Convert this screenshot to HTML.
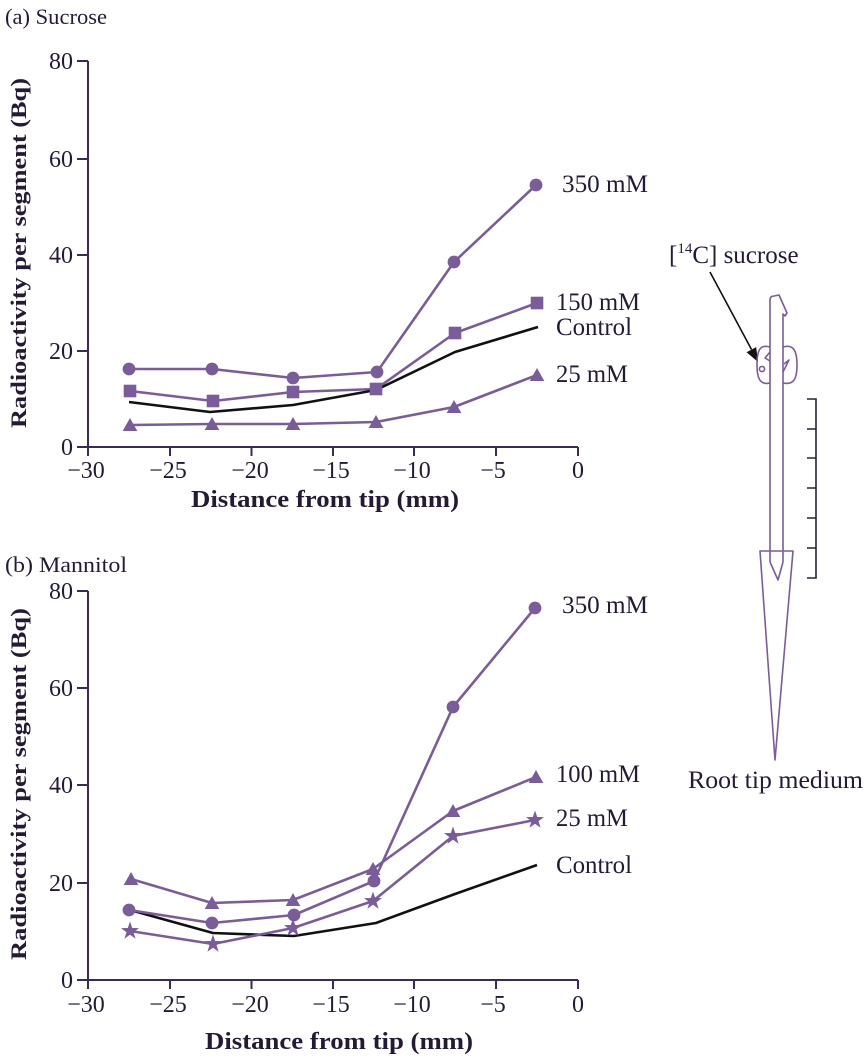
<!DOCTYPE html>
<html>
<head>
<meta charset="utf-8">
<style>
  html, body { margin: 0; padding: 0; background: #ffffff; }
  svg { display: block; }
  text { font-family: "Liberation Serif", serif; fill: #241a36; }
  .tk { font-size: 24px; }
  .lg { font-size: 25px; }
  .bold { font-weight: bold; }
</style>
</head>
<body>
<svg width="865" height="1058" viewBox="0 0 865 1058" xmlns="http://www.w3.org/2000/svg">
  <rect width="865" height="1058" fill="#ffffff"/>
  <defs>
    <circle id="mc" cx="0" cy="0" r="6.4" fill="#7a5c9a"/>
    <rect id="ms" x="-6.3" y="-6.3" width="12.6" height="12.6" fill="#7a5c9a"/>
    <polygon id="mt" points="0,-8 7.3,5 -7.3,5" fill="#7a5c9a"/>
    <polygon id="mst" points="0,-9.5 2.2,-3 9,-2.9 3.5,1.2 5.6,7.7 0,3.7 -5.6,7.7 -3.5,1.2 -9,-2.9 -2.2,-3" fill="#7a5c9a"/>
  </defs>

  <!-- ================= PANEL A ================= -->
  <text x="5" y="24" font-size="22.5" textLength="102" lengthAdjust="spacingAndGlyphs">(a) Sucrose</text>

  <!-- axes -->
  <g stroke="#3b2a58" stroke-width="2" fill="none">
    <path d="M88,61 L88,447 L578,447"/>
    <path d="M77,61 H88 M77,159 H88 M77,255 H88 M77,351 H88 M77,447 H88"/>
    <path d="M88,447 V456 M170,447 V456 M251.5,447 V456 M333,447 V456 M414,447 V456 M496,447 V456 M578,447 V456"/>
  </g>
  <g class="tk" text-anchor="end">
    <text x="73" y="69">80</text>
    <text x="73" y="167">60</text>
    <text x="73" y="263">40</text>
    <text x="73" y="359">20</text>
    <text x="73" y="455">0</text>
  </g>
  <g class="tk" text-anchor="middle">
    <text x="86" y="478">−30</text>
    <text x="168" y="478">−25</text>
    <text x="250" y="478">−20</text>
    <text x="331" y="478">−15</text>
    <text x="412" y="478">−10</text>
    <text x="493" y="478">−5</text>
    <text x="578" y="478">0</text>
  </g>
  <text class="bold" x="325" y="507" font-size="24" text-anchor="middle" textLength="268" lengthAdjust="spacingAndGlyphs">Distance from tip (mm)</text>
  <text class="bold" transform="translate(26,253) rotate(-90)" x="0" y="0" font-size="22" text-anchor="middle" textLength="350" lengthAdjust="spacingAndGlyphs">Radioactivity per segment (Bq)</text>

  <!-- series A -->
  <g fill="none" stroke-width="2.6" stroke-linejoin="round">
    <polyline stroke="#7a5c9a" points="129,369 212,369 293,378 377,372 454,262 536,185"/>
    <polyline stroke="#7a5c9a" points="130,391 213,401 293,392 376,389 455,333 537,303"/>
    <polyline stroke="#111111" points="129,402 210,412 293,405 376,390 455,352 538,327"/>
    <polyline stroke="#7a5c9a" points="130,425 212,424 293,424 376,422 454,407 537,375"/>
  </g>
  <use href="#mc" x="129" y="369"/><use href="#mc" x="212" y="369"/><use href="#mc" x="293" y="378"/>
  <use href="#mc" x="377" y="372"/><use href="#mc" x="454" y="262"/><use href="#mc" x="536" y="185"/>
  <use href="#ms" x="130" y="391"/><use href="#ms" x="213" y="401"/><use href="#ms" x="293" y="392"/>
  <use href="#ms" x="376" y="389"/><use href="#ms" x="455" y="333"/><use href="#ms" x="537" y="303"/>
  <use href="#mt" x="130" y="426"/><use href="#mt" x="212" y="425"/><use href="#mt" x="293" y="425"/>
  <use href="#mt" x="376" y="423"/><use href="#mt" x="454" y="408"/><use href="#mt" x="537" y="376"/>

  <g class="lg">
    <text x="562" y="192" textLength="86" lengthAdjust="spacingAndGlyphs">350 mM</text>
    <text x="556" y="310" textLength="84" lengthAdjust="spacingAndGlyphs">150 mM</text>
    <text x="556" y="335" textLength="76" lengthAdjust="spacingAndGlyphs">Control</text>
    <text x="556" y="382" textLength="72" lengthAdjust="spacingAndGlyphs">25 mM</text>
  </g>

  <!-- ================= PANEL B ================= -->
  <text x="5" y="572" font-size="22.5" textLength="122" lengthAdjust="spacingAndGlyphs">(b) Mannitol</text>

  <g stroke="#3b2a58" stroke-width="2" fill="none">
    <path d="M88,591 L88,980 L578,980"/>
    <path d="M77,591 H88 M77,688 H88 M77,785 H88 M77,883 H88 M77,980 H88"/>
    <path d="M88,980 V989 M170,980 V989 M251.5,980 V989 M333,980 V989 M414,980 V989 M496,980 V989 M578,980 V989"/>
  </g>
  <g class="tk" text-anchor="end">
    <text x="73" y="599">80</text>
    <text x="73" y="696">60</text>
    <text x="73" y="793">40</text>
    <text x="73" y="891">20</text>
    <text x="73" y="988">0</text>
  </g>
  <g class="tk" text-anchor="middle">
    <text x="86" y="1012">−30</text>
    <text x="168" y="1012">−25</text>
    <text x="250" y="1012">−20</text>
    <text x="331" y="1012">−15</text>
    <text x="412" y="1012">−10</text>
    <text x="493" y="1012">−5</text>
    <text x="578" y="1012">0</text>
  </g>
  <text class="bold" x="339" y="1049" font-size="24" text-anchor="middle" textLength="268" lengthAdjust="spacingAndGlyphs">Distance from tip (mm)</text>
  <text class="bold" transform="translate(26,784) rotate(-90)" x="0" y="0" font-size="22" text-anchor="middle" textLength="352" lengthAdjust="spacingAndGlyphs">Radioactivity per segment (Bq)</text>

  <g fill="none" stroke-width="2.6" stroke-linejoin="round">
    <polyline stroke="#111111" points="130,910 213,933 294,936 376,923 455,894 537,865"/>
    <polyline stroke="#7a5c9a" points="129,910 212,923 294,915 374,881 453,707 535,608"/>
    <polyline stroke="#7a5c9a" points="131,879 212,903 293,900 373,869 453,811 536,777"/>
    <polyline stroke="#7a5c9a" points="130,931 213,944 293,928 373,901 453,836 535,820"/>
  </g>
  <use href="#mc" x="129" y="910"/><use href="#mc" x="212" y="923"/><use href="#mc" x="294" y="915"/>
  <use href="#mc" x="374" y="881"/><use href="#mc" x="453" y="707"/><use href="#mc" x="535" y="608"/>
  <use href="#mt" x="131" y="880"/><use href="#mt" x="212" y="904"/><use href="#mt" x="293" y="901"/>
  <use href="#mt" x="373" y="870"/><use href="#mt" x="453" y="812"/><use href="#mt" x="536" y="778"/>
  <use href="#mst" x="130" y="931"/><use href="#mst" x="213" y="944"/><use href="#mst" x="293" y="928"/>
  <use href="#mst" x="373" y="901"/><use href="#mst" x="453" y="836"/><use href="#mst" x="535" y="820"/>

  <g class="lg">
    <text x="562" y="613" textLength="86" lengthAdjust="spacingAndGlyphs">350 mM</text>
    <text x="556" y="782" textLength="84" lengthAdjust="spacingAndGlyphs">100 mM</text>
    <text x="556" y="826" textLength="72" lengthAdjust="spacingAndGlyphs">25 mM</text>
    <text x="556" y="873" textLength="76" lengthAdjust="spacingAndGlyphs">Control</text>
  </g>

  <!-- ================= DIAGRAM ================= -->
  <text x="669" y="263" font-size="25">[<tspan font-size="15" dy="-10">14</tspan><tspan font-size="25" dy="10">C] sucrose</tspan></text>

  <!-- arrow -->
  <line x1="710" y1="272" x2="751.5" y2="349.5" stroke="#111111" stroke-width="1.6"/>
  <polygon points="758,362 746.6,352.3 756.2,347.1" fill="#111111"/>

  <g stroke="#7a5c9a" stroke-width="1.6" fill="none" stroke-linejoin="round">
    <!-- shaft with hooked top -->
    <path d="M770,562 L770,300 Q770,296 774,296 L779,295 L787,313 L785,316 L783,314 L783,562"/>
    <path d="M770,562 L778,580 L783,562"/>
    <!-- collar lobes -->
    <path d="M770,347 C760,344 757,350 757,365 C757,380 761,385 770,383"/>
    <path d="M770,352 L765,358 L770,361"/>
    <circle cx="762" cy="369" r="2.6"/>
    <path d="M783,347 C793,344 797,350 797,365 C797,380 793,385 783,383"/>
    <path d="M783,372 L789,360 L784,364"/>
    <!-- tube / tip -->
    <path d="M760,551 L793,551 L775,760 Z"/>
  </g>

  <!-- scale bar -->
  <path d="M807,399 H816 V578 H807 M807,429 H816 M807,458 H816 M807,488 H816 M807,518 H816 M807,548 H816" stroke="#2a1f3d" stroke-width="1.6" fill="none"/>

  <text x="688" y="788" font-size="25" textLength="175" lengthAdjust="spacingAndGlyphs">Root tip medium</text>
</svg>
</body>
</html>
